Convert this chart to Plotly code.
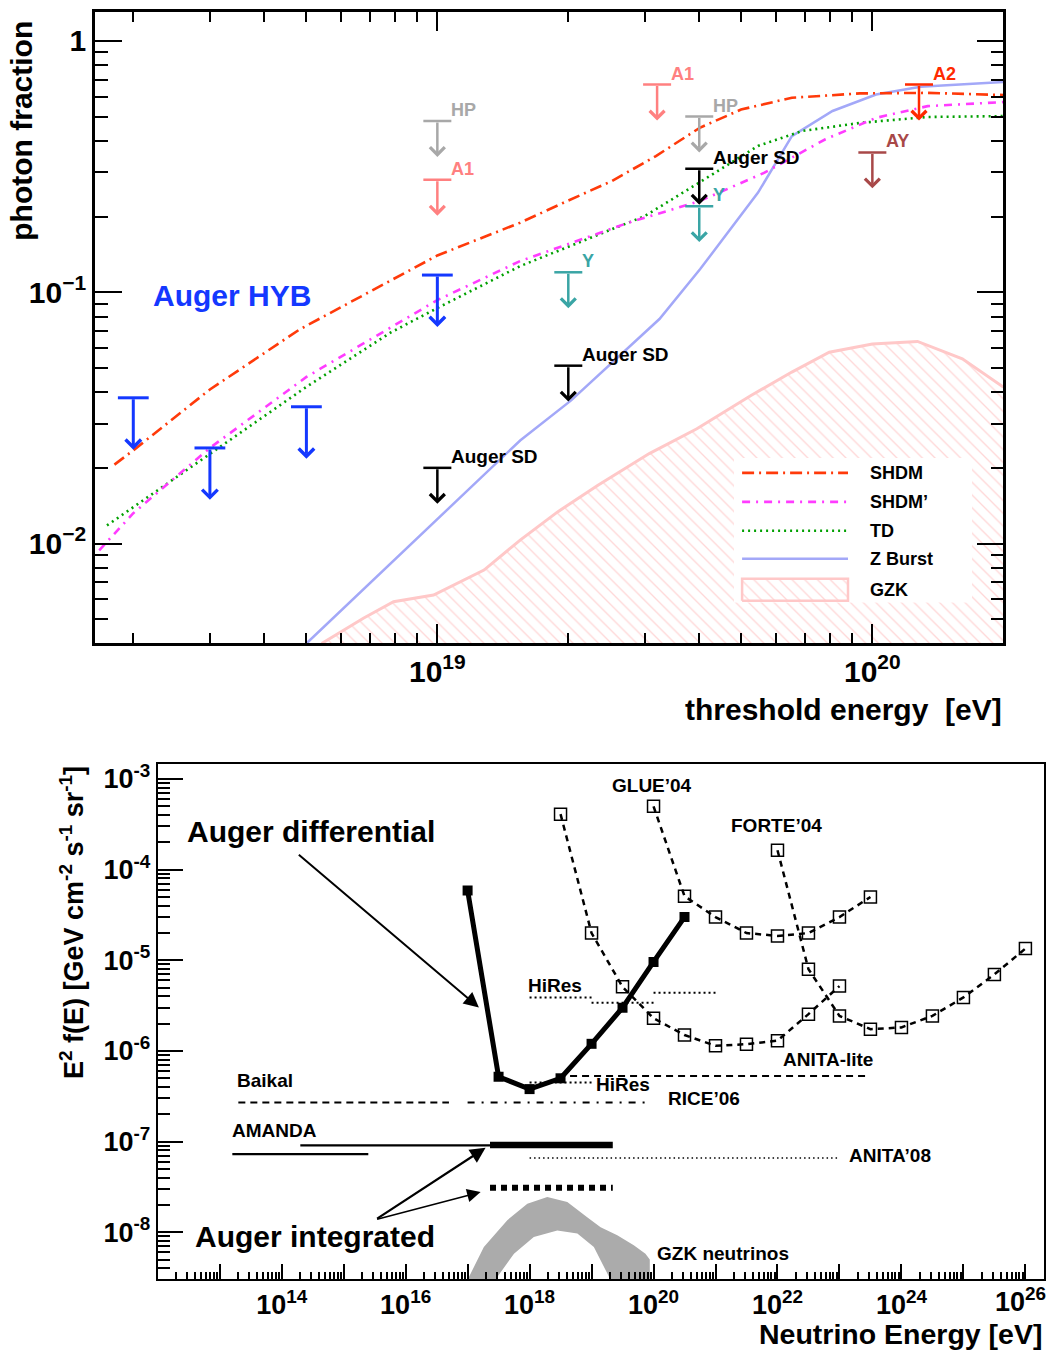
import math
import plotly.graph_objects as go

W, H = 1050, 1352
FONT = "Liberation Sans"

# ================= top panel data: threshold energy [eV] vs photon fraction =================
shdm_E = [1.81e18, 2.02e18, 3.0e18, 4.83e18, 1.0e19, 1.55e19, 1.95e19, 2.52e19, 3.18e19,
          4.01e19, 4.99e19, 6.53e19, 9.36e19, 1.34e20, 2.0e20]
shdm_f = [0.0206, 0.0238, 0.041, 0.0712, 0.140, 0.189, 0.227, 0.277, 0.348,
          0.451, 0.533, 0.594, 0.618, 0.621, 0.609]

shdmp_E = [1.67e18, 2.0e18, 3.0e18, 5.0e18, 1.0e19, 1.55e19, 2.75e19, 4.0e19, 5.65e19,
           7.8e19, 1.02e20, 1.34e20, 2.0e20]
shdmp_f = [0.0094, 0.0132, 0.0240, 0.046, 0.093, 0.133, 0.189, 0.230, 0.299,
           0.406, 0.494, 0.550, 0.571]

td_E = [1.74e18, 3.05e18, 5.0e18, 7.8e18, 1.0e19, 1.55e19, 3.0e19, 4.0e19, 5.46e19,
        6.9e19, 9.4e19, 1.34e20, 2.0e20]
td_f = [0.0118, 0.0231, 0.042, 0.069, 0.0865, 0.127, 0.201, 0.273, 0.382,
        0.438, 0.472, 0.498, 0.502]

zb_E = [5.0e18, 1.0e19, 1.55e19, 2.03e19, 3.01e19, 3.24e19, 4.02e19, 5.46e19, 6.53e19,
        8.1e19, 1.02e20, 1.29e20, 2.0e20]
zb_f = [0.0040, 0.0125, 0.0257, 0.0371, 0.0693, 0.0782, 0.1236, 0.249, 0.418,
        0.526, 0.612, 0.657, 0.686]

gzk_E = [5.42e18, 6.76e18, 7.93e18, 9.8e18, 1.28e19, 1.55e19, 1.89e19, 2.34e19, 3.07e19,
         3.95e19, 5.26e19, 6.53e19, 7.96e19, 1.0e20, 1.27e20, 1.61e20, 2.0e20]
gzk_f = [0.0040, 0.00504, 0.00587, 0.00624, 0.00784, 0.01032, 0.01336, 0.01706, 0.0228,
         0.0286, 0.0388, 0.0481, 0.0577, 0.0622, 0.0637, 0.0543, 0.0419]

# upper limits
hyb_E = [2e18, 3e18, 5e18, 1e19]
hyb_lim = [0.038, 0.024, 0.035, 0.117]
sd_E = [1e19, 2e19, 4e19]
sd_lim = [0.020, 0.051, 0.31]
hp_E = [1e19, 4e19]
hp_lim = [0.48, 0.50]
a1_E = [1e19, 3.2e19]
a1_lim = [0.28, 0.67]
a2_E = [1.28e20]
a2_lim = [0.67]
ay_E = [1.0e20]
ay_lim = [0.36]
yk_E = [2e19, 4e19]
yk_lim = [0.12, 0.22]

legend_names = ["SHDM", "SHDM\u2019", "TD", "Z Burst", "GZK"]

# ================= bottom panel data: neutrino energy [eV] vs E^2 f(E) =================
diff_E = [1e17, 3.16e17, 1e18, 3.16e18, 1e19, 3.16e19, 1e20, 3.16e20]
diff_F = [5.9e-5, 5.2e-7, 3.8e-7, 5.0e-7, 1.2e-6, 3.0e-6, 9.6e-6, 3.0e-5]

integ_E = [2.3e17, 2.2e19]
integ_solid_F = 9.2e-8
integ_dash_F = 3.1e-8

amanda1_E = [2e14, 2.3e17]
amanda1_F = 9.1e-8
amanda2_E = [1.6e13, 2.5e15]
amanda2_F = 7.3e-8
baikal_E = [2e13, 5e16]
baikal_F = 2.7e-7
rice_E = [1e17, 7.4e19]
rice_F = 2.7e-7
hires_edges = [1e18, 1e19, 1e20, 1e21]
hires_F = [3.9e-6, 3.4e-6, 4.4e-6]
hires2_E = [1e18, 1e19]
hires2_F = 4.5e-7
anitalite_E = [4.5e18, 2.8e23]
anitalite_F = 5.3e-7
anita08_E = [1e18, 1e23]
anita08_F = 6.6e-8

glue_E = [1e20, 3.16e20, 1e21, 3.16e21, 1e22, 3.16e22, 1e23, 3.16e23]
glue_F = [5.0e-4, 5.1e-5, 3.0e-5, 2.0e-5, 1.86e-5, 2.0e-5, 3.0e-5, 5.0e-5]
forte_E = [1e22, 3.16e22, 1e23, 3.16e23, 1e24, 3.16e24, 1e25, 3.16e25, 1e26]
forte_F = [1.64e-4, 8.0e-6, 2.44e-6, 1.74e-6, 1.82e-6, 2.44e-6, 3.9e-6, 7.0e-6, 1.35e-5]
lite_E = [3.16e18, 1e19, 3.16e19, 1e20, 3.16e20, 1e21, 3.16e21, 1e22, 3.16e22, 1e23]
lite_F = [4.1e-4, 2.0e-5, 5.1e-6, 2.3e-6, 1.5e-6, 1.14e-6, 1.19e-6, 1.30e-6, 2.55e-6, 5.2e-6]

gzknu_up_E = [1.0e17, 1.83e17, 4.37e17, 9.2e17, 1.93e18, 4.06e18, 8.5e18, 1.4e19, 2.6e19, 4.8e19, 7.4e19, 8.7e19]
gzknu_up_F = [3.0e-9, 6.9e-9, 1.36e-8, 2.07e-8, 2.45e-8, 2.16e-8, 1.47e-8, 1.14e-8, 9.3e-9, 7.2e-9, 5.8e-9, 5.0e-9]
gzknu_lo_E = [2.8e17, 5.6e17, 1.17e18, 2.8e18, 5.9e18, 1.09e19, 2.02e19]
gzknu_lo_F = [3.0e-9, 5.8e-9, 8.9e-9, 1.05e-8, 9.7e-9, 6.9e-9, 3.0e-9]

# ================= figure =================
fig = go.Figure()

def F(size, color="black"):
    return dict(family=FONT, size=size, color=color, weight="bold")

# --- top panel curves ---
RED = "#FF3A0A"
MAG = "#FF3CFF"
GRN = "#00A000"
ZB = "#A3A8F8"
PINK = "#FFC8C8"
HATCH = dict(shape="\\", fgcolor="#FFB0B0", bgcolor="white", size=9, solidity=0.15)

fig.add_trace(go.Scatter(x=gzk_E + [gzk_E[-1], gzk_E[0]], y=gzk_f + [1e-3, 1e-3],
                         mode="lines", fill="toself", fillcolor="white", fillpattern=HATCH,
                         line=dict(width=0), xaxis="x", yaxis="y", hoverinfo="skip"))
fig.add_trace(go.Scatter(x=gzk_E, y=gzk_f, mode="lines", line=dict(color=PINK, width=3),
                         xaxis="x", yaxis="y"))
fig.add_trace(go.Scatter(x=zb_E, y=zb_f, mode="lines", line=dict(color=ZB, width=2.5),
                         xaxis="x", yaxis="y"))
fig.add_trace(go.Scatter(x=td_E, y=td_f, mode="lines",
                         line=dict(color=GRN, width=2.6, dash="2px,4px"), xaxis="x", yaxis="y"))
fig.add_trace(go.Scatter(x=shdmp_E, y=shdmp_f, mode="lines",
                         line=dict(color=MAG, width=2.6, dash="8px,6px,2px,6px"), xaxis="x", yaxis="y"))
fig.add_trace(go.Scatter(x=shdm_E, y=shdm_f, mode="lines",
                         line=dict(color=RED, width=2.6, dash="12px,5px,2px,5px"), xaxis="x", yaxis="y"))

annotations = []

def add_limits(E_list, lims, color, drop, width, barsize, headsize, label=None, lsize=18):
    fig.add_trace(go.Scatter(x=E_list, y=lims, mode="markers",
                             marker=dict(symbol="line-ew", size=barsize, color=color,
                                         line=dict(width=width, color=color)),
                             xaxis="x", yaxis="y", hoverinfo="skip"))
    for E, v in zip(E_list, lims):
        lx, ly = math.log10(E), math.log10(v)
        annotations.append(dict(x=lx, y=ly - drop, ax=lx, ay=ly, xref="x", yref="y",
                                axref="x", ayref="y", text="", showarrow=True, arrowhead=4,
                                arrowsize=headsize, arrowwidth=width, arrowcolor=color))
        if label:
            annotations.append(dict(x=lx, y=ly, xref="x", yref="y", text=label, showarrow=False,
                                    xanchor="left", yanchor="middle", xshift=12, yshift=11,
                                    font=F(lsize, color)))

BLUE = "#1438FF"
add_limits(hyb_E, hyb_lim, BLUE, 0.2065, 3, 22, 1.0)
add_limits(sd_E, sd_lim, "black", 0.143, 2.5, 20, 1.15, "Auger SD", 19)
add_limits(hp_E, hp_lim, "#A8A8A8", 0.143, 2.5, 20, 1.15, "HP", 18)
add_limits(a1_E, a1_lim, "#FF8080", 0.143, 2.5, 20, 1.15, "A1", 18)
add_limits(a2_E, a2_lim, "#FF2A00", 0.143, 2.5, 20, 1.15, "A2", 18)
add_limits(ay_E, ay_lim, "#A84848", 0.143, 2.5, 20, 1.15, "AY", 18)
add_limits(yk_E, yk_lim, "#3AA5A5", 0.143, 2.5, 20, 1.15, "Y", 18)

# --- bottom panel ---
def hline(E, val, dash, width, color="black"):
    fig.add_trace(go.Scatter(x=E, y=[val] * len(E), mode="lines",
                             line=dict(color=color, width=width, dash=dash),
                             xaxis="x2", yaxis="y2", hoverinfo="skip"))

fig.add_trace(go.Scatter(x=gzknu_up_E + [gzknu_up_E[-1], gzknu_lo_E[-1]] + gzknu_lo_E[::-1] + [gzknu_lo_E[0], gzknu_up_E[0]],
                         y=gzknu_up_F + [1e-9, 1e-9] + gzknu_lo_F[::-1] + [1e-9, 1e-9],
                         mode="lines", fill="toself", fillcolor="#ABABAB", line=dict(width=0),
                         xaxis="x2", yaxis="y2", hoverinfo="skip"))

hline(baikal_E, baikal_F, "7px,5px", 2)
hline(rice_E, rice_F, "7px,7px,2px,7px", 2)
hline(amanda1_E, amanda1_F, "solid", 2.2)
hline(amanda2_E, amanda2_F, "solid", 2.2)
hline(anita08_E, anita08_F, "1.5px,3px", 1.6)
hline(anitalite_E, anitalite_F, "7px,5px", 2.2)
hline(hires2_E, hires2_F, "2px,3px", 2)
hx, hy = [], []
for i, v in enumerate(hires_F):
    hx += [hires_edges[i], hires_edges[i + 1], None]
    hy += [v, v, None]
fig.add_trace(go.Scatter(x=hx, y=hy, mode="lines", line=dict(color="black", width=2, dash="2px,3px"),
                         xaxis="x2", yaxis="y2"))

for E, Fv in [(lite_E, lite_F), (glue_E, glue_F), (forte_E, forte_F)]:
    fig.add_trace(go.Scatter(x=E, y=Fv, mode="lines+markers",
                             line=dict(color="black", width=2.5, dash="6px,5px"),
                             marker=dict(symbol="square-open", size=12, color="black",
                                         line=dict(width=1.5, color="black")),
                             xaxis="x2", yaxis="y2"))

hline(integ_E, integ_solid_F, "solid", 6.5)
hline(integ_E, integ_dash_F, "6px,5px", 6)
fig.add_trace(go.Scatter(x=diff_E, y=diff_F, mode="lines+markers",
                         line=dict(color="black", width=5),
                         marker=dict(symbol="square", size=10, color="black"),
                         xaxis="x2", yaxis="y2"))

# --- manual legend (top panel) on an auxiliary axis pair ---
fig.add_trace(go.Scatter(x=[0, 1, 1, 0, 0], y=[0, 0, 1, 1, 0], mode="lines", fill="toself",
                         fillcolor="white", line=dict(width=0), xaxis="x3", yaxis="y3", hoverinfo="skip"))
leg_y = [0.897, 0.697, 0.497, 0.303, 0.09]
leg_styles = [dict(color=RED, width=2.6, dash="12px,5px,2px,5px"),
              dict(color=MAG, width=2.6, dash="8px,6px,2px,6px"),
              dict(color=GRN, width=2.6, dash="2px,4px"),
              dict(color=ZB, width=2.5)]
for yy, st in zip(leg_y[:4], leg_styles):
    fig.add_trace(go.Scatter(x=[0.034, 0.479], y=[yy, yy], mode="lines", line=st,
                             xaxis="x3", yaxis="y3"))
fig.add_trace(go.Scatter(x=[0.034, 0.479, 0.479, 0.034, 0.034], y=[0.014, 0.014, 0.166, 0.166, 0.014],
                         mode="lines", fill="toself", fillcolor="white", fillpattern=HATCH,
                         line=dict(color=PINK, width=2.5), xaxis="x3", yaxis="y3"))
for yy, name in zip(leg_y, legend_names):
    annotations.append(dict(x=0.563, y=yy, xref="x3", yref="y3", text=name, showarrow=False,
                            xanchor="left", yanchor="middle", font=F(18)))

# --- text annotations ---
def ptext(px, py, text, size, color="black", xanchor="left", angle=0):
    annotations.append(dict(x=px / W, y=1 - py / H, xref="paper", yref="paper", text=text,
                            showarrow=False, xanchor=xanchor, yanchor="middle",
                            textangle=angle, font=F(size, color)))

ptext(22, 128, "photon fraction", 30, angle=-90, xanchor="center")
ptext(1004, 708, "threshold energy&nbsp; [eV]", 30, xanchor="right")
ptext(151, 293, "Auger HYB", 30, BLUE)

ptext(72, 922, "E<sup>2</sup> f(E) [GeV cm<sup>-2</sup> s<sup>-1</sup> sr<sup>-1</sup>]", 27,
      angle=-90, xanchor="center")
ptext(1044, 1334, "Neutrino Energy [eV]", 28.5, xanchor="right")
ptext(1048, 1300, "10<sup>26</sup>", 27, xanchor="right")   # last x tick label (kept inside the page)
ptext(185, 830, "Auger differential", 30)
ptext(193, 1236, "Auger integrated", 30)
ptext(610, 784, "GLUE\u201904", 19)
ptext(729, 824, "FORTE\u201904", 19)
ptext(526, 985, "HiRes", 19)
ptext(594, 1084, "HiRes", 19)
ptext(781, 1059, "ANITA-lite", 19)
ptext(666, 1098, "RICE\u201906", 19)
ptext(847, 1155, "ANITA\u201908", 19)
ptext(235, 1080, "Baikal", 19)
ptext(230, 1130, "AMANDA", 19)
ptext(655, 1253, "GZK neutrinos", 19)

# arrows pointing to the Auger limits (bottom panel, log coordinates)
for (tx, ty, hx_, hy_, w, s) in [(14.253, -3.821, 17.182, -5.520, 2, 1.5),
                                  (15.516, -7.860, 17.29, -7.068, 2.2, 1.4),
                                  (15.516, -7.860, 17.21, -7.556, 1.5, 1.8)]:
    annotations.append(dict(x=hx_, y=hy_, ax=tx, ay=ty, xref="x2", yref="y2", axref="x2", ayref="y2",
                            text="", showarrow=True, arrowhead=2, arrowsize=s, arrowwidth=w,
                            arrowcolor="black"))

# ================= axes =================
top_minor_x = [k * 10.0 ** p for p in (18, 19) for k in range(2, 10)]
top_minor_x = [v for v in top_minor_x if 10 ** 18.213 < v < 10 ** 20.301]
top_minor_y = [k * 10.0 ** p for p in (-3, -2, -1) for k in range(2, 10)]
top_minor_y = [v for v in top_minor_y if 10 ** -2.397 < v < 10 ** 0.113]

bot_major_x = [10.0 ** p for p in range(12, 27)]
bot_major_xt = ["<b>10<sup>%d</sup></b>" % p if (p % 2 == 0 and 14 <= p <= 24) else "" for p in range(12, 27)]
bot_minor_x = [k * 10.0 ** p for p in range(12, 27) for k in range(2, 10) if k * 10.0 ** p < 10 ** 26.3]
bot_major_y = [10.0 ** p for p in range(-8, -2)]
bot_major_yt = ["<b>10<sup>-%d</sup></b>" % -p for p in range(-8, -2)]
bot_minor_y = [k * 10.0 ** p for p in range(-9, -2) for k in range(2, 10)
               if 10 ** -8.52 < k * 10.0 ** p < 10 ** -2.83]

common = dict(showgrid=False, zeroline=False, showline=True, linecolor="black", ticks="inside",
              tickcolor="black")

fig.update_layout(
    width=W, height=H, autosize=False, margin=dict(l=0, r=0, t=0, b=0),
    paper_bgcolor="white", plot_bgcolor="rgba(0,0,0,0)", showlegend=False,
    font=dict(family=FONT, color="black"),
    xaxis=dict(type="log", range=[18.213, 20.301], domain=[95 / W, 1003.3 / W], anchor="y",
               mirror="ticks", linewidth=2.6, ticklen=19, tickwidth=2,
               tickmode="array", tickvals=[1e19, 1e20],
               ticktext=["<b>10<sup>19</sup></b>", "<b>10<sup>20</sup></b>"],
               tickfont=F(30),
               minor=dict(tickmode="array", tickvals=top_minor_x, ticks="inside", ticklen=10,
                          tickwidth=2, tickcolor="black", showgrid=False),
               **common),
    yaxis=dict(type="log", range=[-2.397, 0.113], domain=[1 - 641.7 / H, 1 - 9.5 / H], anchor="x",
               mirror="ticks", linewidth=2.6, ticklen=27, tickwidth=2,
               tickmode="array", tickvals=[0.01, 0.1, 1],
               ticktext=["<b>10<sup>\u22122</sup></b>", "<b>10<sup>\u22121</sup></b>", "<b>1</b>"],
               tickfont=F(30),
               minor=dict(tickmode="array", tickvals=top_minor_y, ticks="inside", ticklen=13,
                          tickwidth=2, tickcolor="black", showgrid=False),
               **common),
    xaxis2=dict(type="log", range=[12, 26.3], domain=[157.7 / W, 1044 / W], anchor="y2",
                mirror=True, linewidth=2, ticklen=15, tickwidth=1.5,
                tickmode="array", tickvals=bot_major_x, ticktext=bot_major_xt, tickfont=F(27),
                minor=dict(tickmode="array", tickvals=bot_minor_x, ticks="inside", ticklen=7,
                           tickwidth=1.5, tickcolor="black", showgrid=False),
                **common),
    yaxis2=dict(type="log", range=[-8.52, -2.83], domain=[1 - 1279.3 / H, 1 - 762.3 / H], anchor="x2",
                mirror=True, linewidth=2, ticklen=25, tickwidth=1.5,
                tickmode="array", tickvals=bot_major_y, ticktext=bot_major_yt, tickfont=F(27),
                minor=dict(tickmode="array", tickvals=bot_minor_y, ticks="inside", ticklen=12,
                           tickwidth=1.5, tickcolor="black", showgrid=False),
                **common),
    xaxis3=dict(range=[0, 1], domain=[734 / W, 972 / W], anchor="y3", visible=False, fixedrange=True),
    yaxis3=dict(range=[0, 1], domain=[1 - 601 / H, 1 - 456 / H], anchor="x3", visible=False, fixedrange=True),
    annotations=annotations,
)

fig.write_html("out.html")
